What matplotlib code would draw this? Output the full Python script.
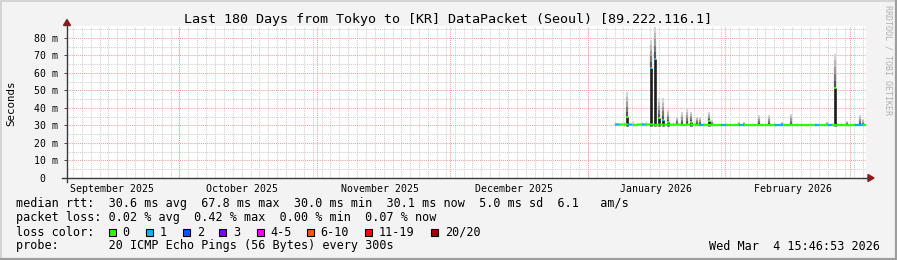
import numpy as np
import pandas as pd
import matplotlib
matplotlib.use("Agg")
import matplotlib.pyplot as plt
import matplotlib.dates as mdates
from matplotlib.collections import LineCollection
from matplotlib.patches import Rectangle, Polygon
from matplotlib.lines import Line2D

W, H = 897, 260
MONO = "DejaVu Sans Mono"

# --- data ---
title = "Last 180 Days from Tokyo to [KR] DataPacket (Seoul) [89.222.116.1]"
t_start = "2025-09-05 15:46:53"
t_end = "2026-03-04 15:46:53"

month_starts = ["2025-10-01", "2025-11-01", "2025-12-01", "2026-01-01", "2026-02-01", "2026-03-01"]
month_label_pos = ["2025-09-15 18:00", "2025-10-15 00:00", "2025-11-15 06:00",
                   "2025-12-15 06:00", "2026-01-16 06:00", "2026-02-16 06:00"]
month_labels = ["September 2025", "October 2025", "November 2025",
                "December 2025", "January 2026", "February 2026"]
y_ticks = [0, 10, 20, 30, 40, 50, 60, 70, 80]
y_labels = ["0  ", "10 m", "20 m", "30 m", "40 m", "50 m", "60 m", "70 m", "80 m"]

# daily median rtt (ms) from 2026-01-07 onwards
base_first = "2026-01-07 02:00"
base_median = [30.5, 30.6, 30.5, 30.6, 30.5, 30.5, 30.6, 30.5, 30.6, 30.5,
               30.5, 30.4, 30.5, 30.4, 30.5, 30.4, 30.4, 30.5, 30.4, 30.4,
               30.4, 30.3, 30.3, 30.3, 30.3, 30.3, 30.3, 30.3, 30.3, 30.3,
               30.3, 30.2, 30.3, 30.2, 30.3, 30.2, 30.2, 30.3, 30.2, 30.2,
               30.2, 30.2, 30.2, 30.2, 30.2, 30.3, 30.2, 30.2, 30.2, 30.3,
               30.2, 30.2, 30.2, 30.1, 30.1, 30.1, 30.1, 30.1]
base_loss = [1, 0, 0, 1, 0, 0, 1, 0, 0, 0,
             0, 0, 0, 0, 0, 0, 0, 0, 0, 1,
             0, 0, 0, 0, 1, 0, 0, 0, 1, 0,
             0, 0, 0, 0, 0, 0, 1, 1, 0, 0,
             0, 0, 0, 0, 0, 1, 0, 0, 1, 0,
             0, 0, 0, 0, 1, 1, 0, 0]
base_smoke_hi = [32.0, 31.5, 32.2, 31.8, 32.3, 31.6, 32.0, 32.4, 31.7, 32.1,
                 32.3, 31.9, 32.5, 32.0, 31.8, 32.2, 31.6, 32.0, 31.9, 31.7,
                 31.5, 31.8, 31.2, 31.0, 31.1, 31.3, 31.0, 31.6, 31.2, 31.0,
                 31.0, 31.2, 31.0, 31.4, 31.0, 31.1, 31.5, 31.0, 31.2, 31.0,
                 31.0, 31.3, 31.1, 31.0, 31.2, 31.4, 31.0, 31.1, 31.6, 31.2,
                 31.3, 31.5, 31.0, 31.2, 31.4, 31.1, 31.8, 31.0]
smoke_floor = 29.9

# spikes: time, median, top of smoke, loss class
ev_time = ["2026-01-09 21:00", "2026-01-15 03:00", "2026-01-16 00:30", "2026-01-17 03:00",
           "2026-01-18 00:00", "2026-01-19 00:30", "2026-01-21 03:00", "2026-01-22 06:00",
           "2026-01-23 05:30", "2026-01-24 03:00", "2026-01-25 15:00", "2026-01-26 05:30",
           "2026-01-28 06:00", "2026-01-29 00:30", "2026-02-04 00:30", "2026-02-05 03:30",
           "2026-02-08 12:45", "2026-02-10 19:00", "2026-02-13 19:30", "2026-02-15 20:00",
           "2026-02-23 23:00", "2026-02-25 14:40", "2026-02-28 11:00", "2026-03-03 07:30",
           "2026-03-04 01:40"]
ev_median = [35.0, 63.0, 68.0, 34.0, 33.0, 32.0, 30.5, 30.6, 31.0, 32.0, 30.5, 30.5, 32.5,
             30.4, 30.3, 30.3, 30.3, 30.3, 30.3, 30.4, 30.3, 51.6, 30.3, 30.3, 30.3]
ev_high = [49.0, 79.0, 86.5, 45.7, 45.5, 39.0, 35.0, 37.6, 39.7, 37.6, 35.0, 34.7, 37.6,
           33.0, 32.0, 32.0, 36.0, 36.0, 31.7, 36.4, 32.0, 71.0, 32.5, 36.0, 33.5]
ev_loss = [0, 1, 1, 0, 1, 0, 0, 0, 0, 0, 0, 0, 0, 0, 0, 0, 0, 0, 0, 0, 0, 0, 0, 0, 0]

loss_labels = ["0", "1", "2", "3", "4-5", "6-10", "11-19", "20/20"]
loss_colors = ["#26ff00", "#00b8ff", "#0059ff", "#7e00ff", "#ff00ff", "#ff5500", "#ff0000", "#a10000"]

rtt_line = "median rtt:  30.6 ms avg  67.8 ms max  30.0 ms min  30.1 ms now  5.0 ms sd  6.1   am/s"
loss_line = "packet loss: 0.02 % avg  0.42 % max  0.00 % min  0.07 % now"
probe_line = "probe:       20 ICMP Echo Pings (56 Bytes) every 300s"
stamp = "Wed Mar  4 15:46:53 2026"


def fx(x):
    return x / W


def fy(y):
    return 1 - y / H


fig = plt.figure(figsize=(W / 100, H / 100), dpi=100)
fig.patch.set_facecolor("#f3f3f3")

# 3d border like rrdtool
fig.add_artist(Line2D([0, 1], [fy(0.5), fy(0.5)], color="#d4d4d4", lw=1.4))
fig.add_artist(Line2D([fx(0.5), fx(0.5)], [0, 1], color="#d4d4d4", lw=1.4))
fig.add_artist(Line2D([0, 1], [fy(H - 1), fy(H - 1)], color="#9e9e9e", lw=1.6))
fig.add_artist(Line2D([fx(W - 1), fx(W - 1)], [0, 1], color="#9e9e9e", lw=1.6))

ax = fig.add_axes([fx(67), fy(178), fx(866) - fx(67), fy(26) - fy(178)])
ax.set_facecolor("white")
x0, x1 = pd.Timestamp(t_start), pd.Timestamp(t_end)
ax.set_xlim(x0, x1)
ax.set_ylim(0, 86.8)
for s in ax.spines.values():
    s.set_visible(False)

# grid
dot = (0, (1, 1))
for v in np.arange(5, 86, 5):
    if v % 10:
        ax.axhline(v, color="#cfcfcf", lw=0.75, ls=dot, zorder=0)
minor_days = pd.date_range(pd.Timestamp("2025-10-01") - pd.Timedelta(days=26), x1, freq="2D")
for d in minor_days:
    if d > x0:
        ax.axvline(d, color="#cfcfcf", lw=0.75, ls=dot, zorder=0)
for v in y_ticks[1:]:
    ax.axhline(v, color="#f0a0a0", lw=0.75, ls=dot, zorder=0.5)
for d in month_starts:
    ax.axvline(pd.Timestamp(d), color="#f0a0a0", lw=0.75, ls=dot, zorder=0.5)

# light smoke around the median
base_t = pd.date_range(base_first, periods=len(base_median), freq="D")
ax.vlines(base_t, smoke_floor, base_smoke_hi, color="#c8c8c8", lw=1.0, zorder=1)

# spikes: grey gradient smoke plus dark core up to the median
greys = ["#555555", "#7a7a7a", "#9c9c9c", "#bababa", "#d4d4d4"]
ev_t = pd.to_datetime(ev_time)
for t, med, hi, loss in zip(ev_t, ev_median, ev_high, ev_loss):
    lo = max(med, smoke_floor)
    edges = np.linspace(lo, hi, len(greys) + 1)
    for k, c in enumerate(greys):
        ax.vlines(t, edges[k], edges[k + 1], color=c, lw=1.6, zorder=2)
    if med > 31:
        ax.vlines(t, smoke_floor, med, color="#1c1c1c", lw=1.9, zorder=3)
        ax.plot([t], [med], marker="s", ms=2.0, mew=0, color=loss_colors[loss], zorder=5)

# median line coloured by loss
bx = mdates.date2num(base_t)
pts = np.column_stack([bx, base_median])
segs = np.stack([pts[:-1], pts[1:]], axis=1)
lc = LineCollection(segs, colors=[loss_colors[l] for l in base_loss[:-1]], lw=1.6, zorder=4,
                    capstyle="butt")
ax.add_collection(lc)

# ticks
ax.set_yticks(y_ticks)
ax.set_yticklabels(y_labels, fontfamily=MONO, fontsize=7.1)
ax.tick_params(axis="y", length=2.5, width=0.7, color="#444444", pad=4)
ax.set_xticks(pd.to_datetime(month_label_pos))
ax.set_xticklabels(month_labels, fontfamily=MONO, fontsize=7.1)
ax.tick_params(axis="x", length=0, pad=4)

# axes with arrows
ax_col = "#3a3a3a"
arr_col = "#8b1a1a"
fig.add_artist(Line2D([fx(62), fx(869)], [fy(178), fy(178)], color=ax_col, lw=1.0))
fig.add_artist(Line2D([fx(67), fx(67)], [fy(182), fy(24)], color=ax_col, lw=1.0))
fig.add_artist(Polygon([[fx(63.5), fy(25.5)], [fx(70.5), fy(25.5)], [fx(67), fy(19.5)]],
                       closed=True, color=arr_col, transform=fig.transFigure))
fig.add_artist(Polygon([[fx(868), fy(174.5)], [fx(868), fy(181.5)], [fx(874), fy(178)]],
                       closed=True, color=arr_col, transform=fig.transFigure))

# texts
fig.text(fx(447.5), fy(19), title, fontfamily=MONO, fontsize=9.6, ha="center", va="center")
fig.text(fx(11), fy(103), "Seconds", fontfamily=MONO, fontsize=7.8, rotation=90,
         ha="center", va="center")
fig.text(fx(888), fy(5), "RRDTOOL / TOBI OETIKER", fontfamily=MONO, fontsize=6.0,
         rotation=270, ha="center", va="top", color="#b0b0b0")

rows_y = [204, 218, 232, 246]
fs = 8.5
fig.text(fx(16), fy(rows_y[0]), rtt_line, fontfamily=MONO, fontsize=fs, va="center")
fig.text(fx(16), fy(rows_y[1]), loss_line, fontfamily=MONO, fontsize=fs, va="center")
fig.text(fx(16), fy(rows_y[2]), "loss color:", fontfamily=MONO, fontsize=fs, va="center")
fig.text(fx(16), fy(rows_y[3]), probe_line, fontfamily=MONO, fontsize=fs, va="center")
fig.text(fx(880), fy(rows_y[3]), stamp, fontfamily=MONO, fontsize=fs, va="center", ha="right")

sq_x = [108.7, 145.7, 182.7, 219.3, 256.7, 306.7, 365.0, 430.7]
for sx, lab, col in zip(sq_x, loss_labels, loss_colors):
    fig.add_artist(Rectangle((fx(sx), fy(rows_y[2] + 3.5)), fx(7), fy(0) - fy(7),
                             facecolor=col, edgecolor="black", lw=0.8, transform=fig.transFigure))
    fig.text(fx(sx + 14), fy(rows_y[2]), lab, fontfamily=MONO, fontsize=fs, va="center")

fig.savefig("out.png", dpi=100, facecolor=fig.get_facecolor())
